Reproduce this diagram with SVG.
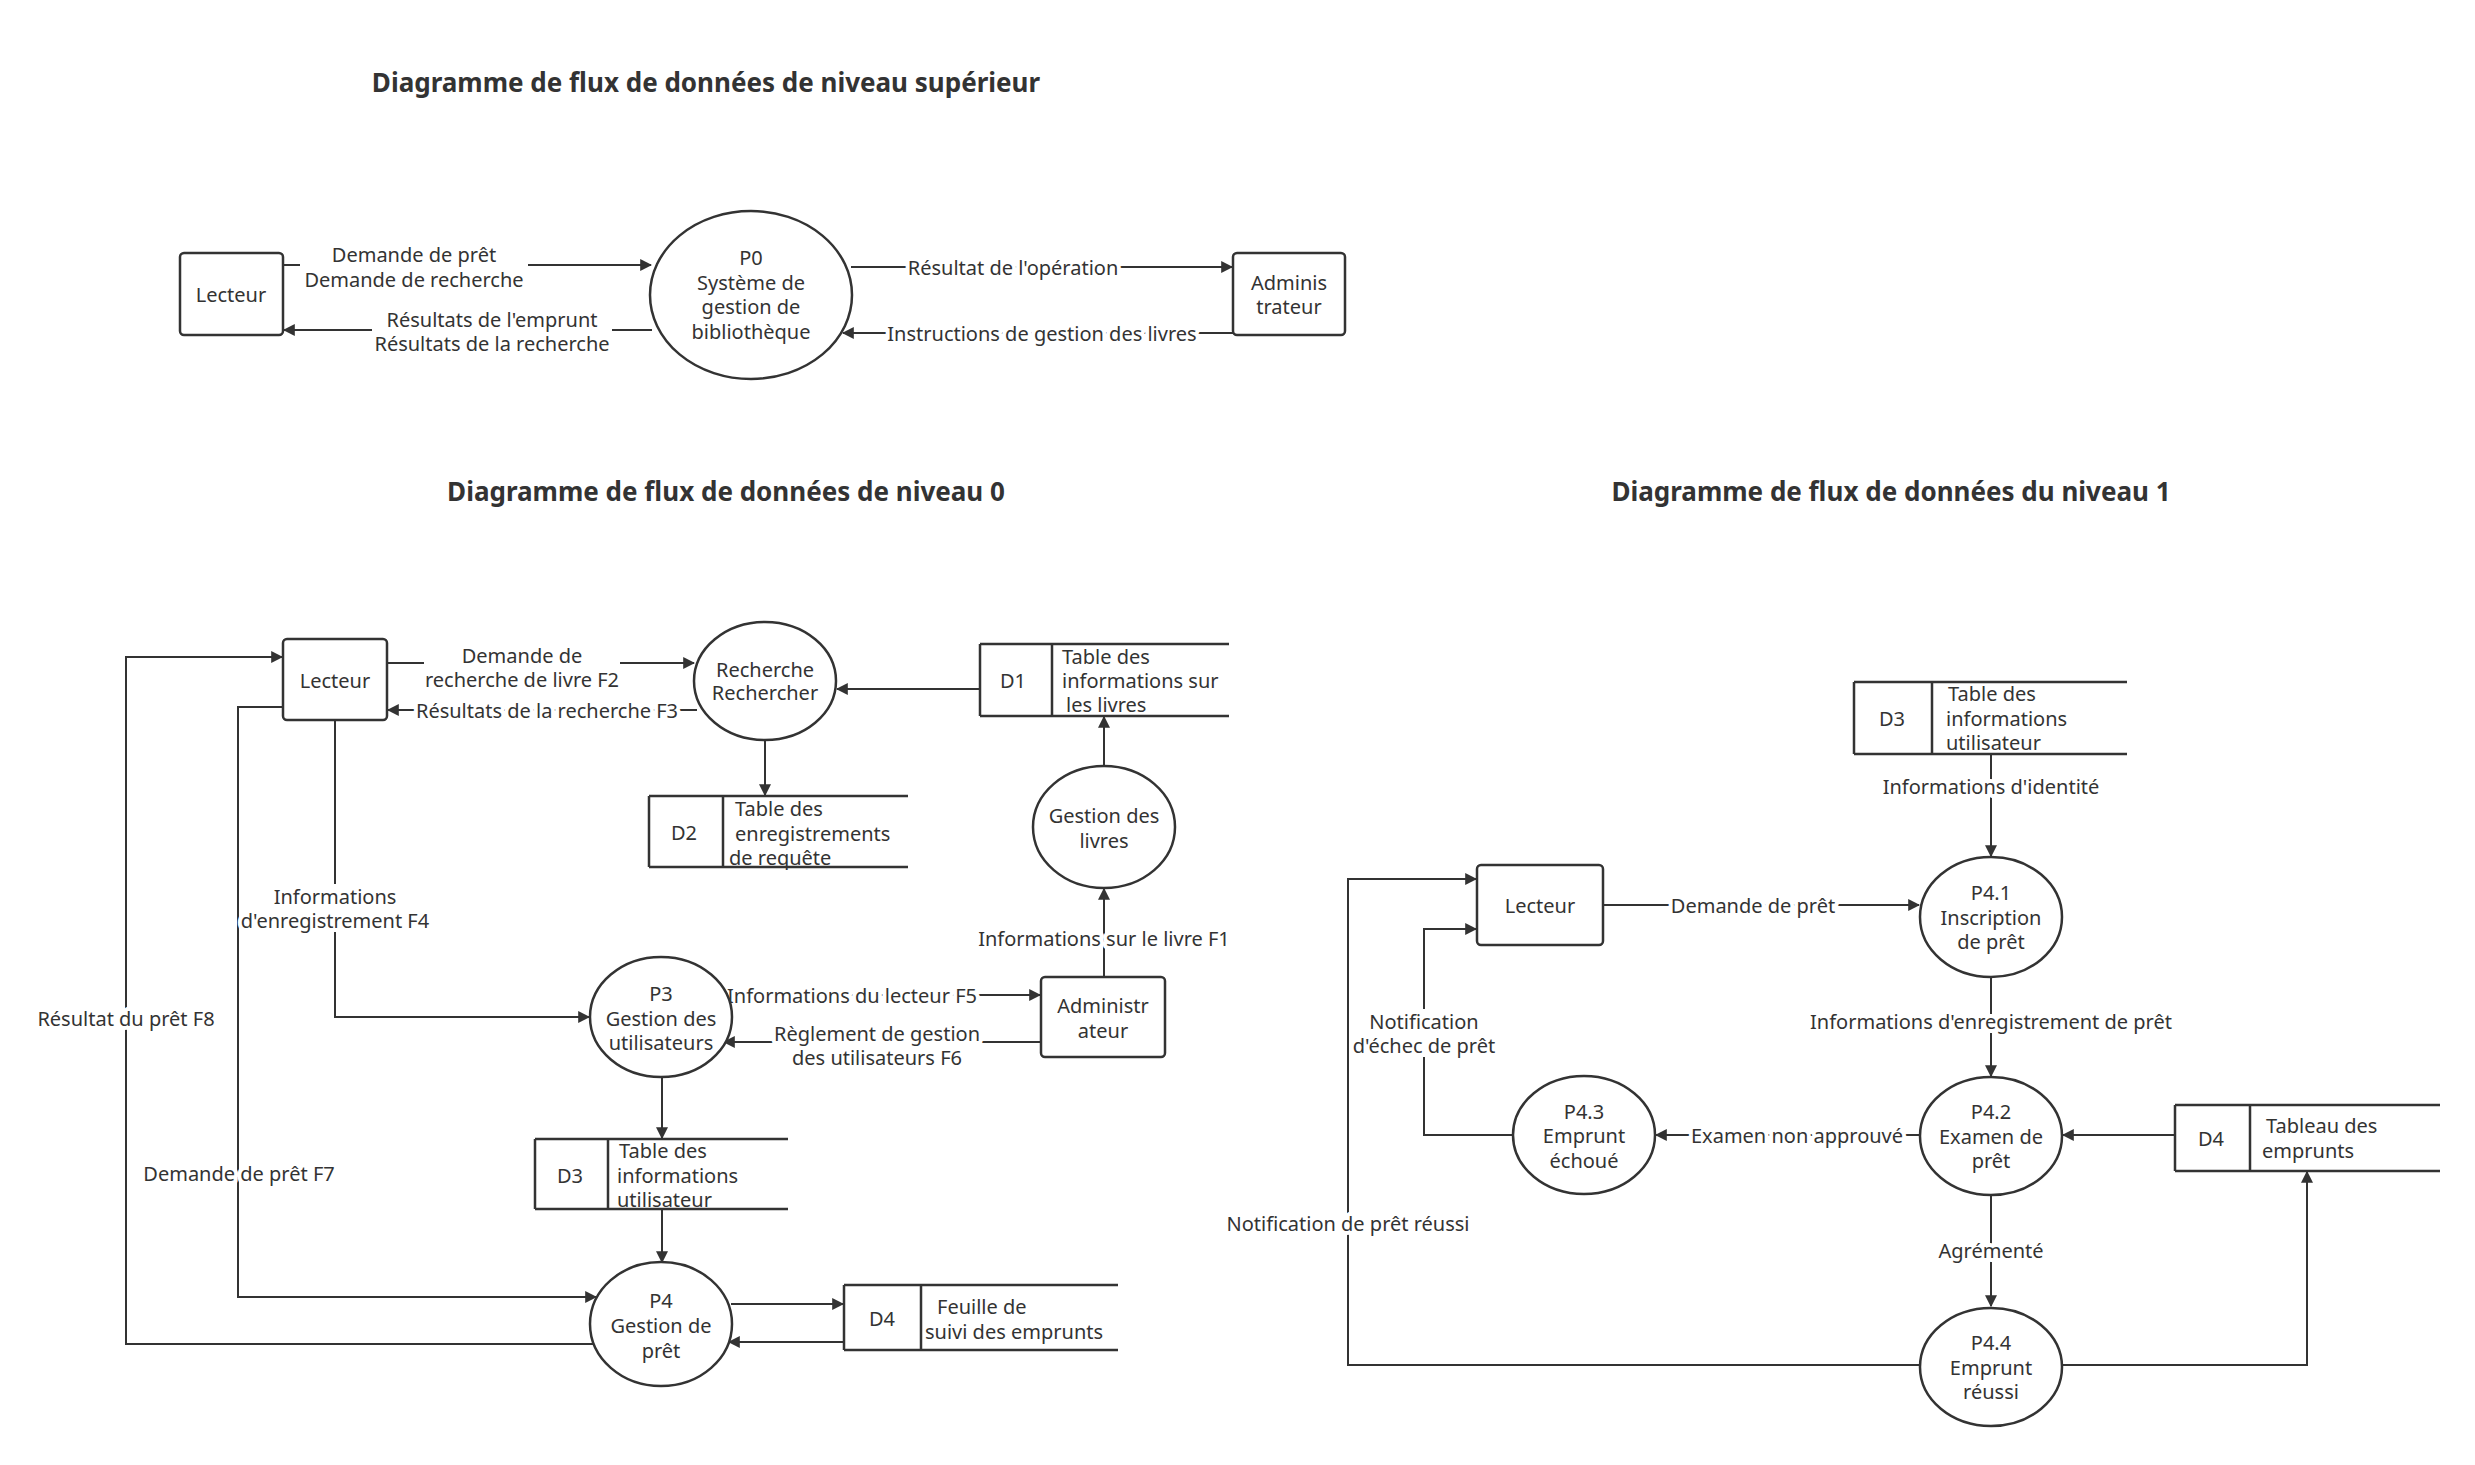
<svg xmlns="http://www.w3.org/2000/svg" width="2475" height="1465" viewBox="0 0 2475 1465">
<style>
text{font-family:"Noto Sans","Liberation Sans",sans-serif;font-size:20px;fill:#333;text-anchor:middle;dominant-baseline:central}
.t{font-size:26px;font-weight:bold}
.l{paint-order:stroke;stroke:#fff;stroke-width:8px;stroke-linejoin:round}
.s{text-anchor:start}
.n{fill:#fff;stroke:#333;stroke-width:2.5}
.st{stroke:#333;stroke-width:2.5;fill:none}
.c path{fill:none;stroke:#333;stroke-width:2}
.bg{fill:#fff}
</style>
<defs><marker id="a" viewBox="0 0 10 10" refX="9" refY="5" markerWidth="12" markerHeight="12" markerUnits="userSpaceOnUse" orient="auto"><path d="M0,0L10,5L0,10z" fill="#333"/></marker></defs>
<rect width="2475" height="1465" fill="#fff"/>
<text class="t" x="706" y="82">Diagramme de flux de données de niveau supérieur</text>
<text class="t" x="726" y="491">Diagramme de flux de données de niveau 0</text>
<text class="t" x="1891" y="491">Diagramme de flux de données du niveau 1</text>

<g class="c">
<path d="M283,265H651" marker-end="url(#a)"/>
<path d="M652,330H284" marker-end="url(#a)"/>
<path d="M851,267H1232" marker-end="url(#a)"/>
<path d="M1233,333H843" marker-end="url(#a)"/>
<path d="M387,663H694" marker-end="url(#a)"/>
<path d="M697,710H388" marker-end="url(#a)"/>
<path d="M980,689H837" marker-end="url(#a)"/>
<path d="M765,740V795" marker-end="url(#a)"/>
<path d="M1104,767V717" marker-end="url(#a)"/>
<path d="M1104,977V889" marker-end="url(#a)"/>
<path d="M731,995H1040" marker-end="url(#a)"/>
<path d="M1041,1042H724" marker-end="url(#a)"/>
<path d="M335,720V1017H589" marker-end="url(#a)"/>
<path d="M662,1077V1138" marker-end="url(#a)"/>
<path d="M662,1209V1262" marker-end="url(#a)"/>
<path d="M283,707H238V1297H596" marker-end="url(#a)"/>
<path d="M593,1344H126V657H282" marker-end="url(#a)"/>
<path d="M731,1304H843" marker-end="url(#a)"/>
<path d="M844,1342H729" marker-end="url(#a)"/>
<path d="M1991,754V856" marker-end="url(#a)"/>
<path d="M1603,905H1919" marker-end="url(#a)"/>
<path d="M1991,977V1076" marker-end="url(#a)"/>
<path d="M2175,1135H2063" marker-end="url(#a)"/>
<path d="M1920,1135H1656" marker-end="url(#a)"/>
<path d="M1513,1135H1424V929H1476" marker-end="url(#a)"/>
<path d="M1991,1195V1306" marker-end="url(#a)"/>
<path d="M1920,1365H1348V879H1476" marker-end="url(#a)"/>
<path d="M2062,1365H2307V1172" marker-end="url(#a)"/>
</g>

<g id="labels">
<rect class="bg" x="300" y="242" width="228" height="50"/>
<rect class="bg" x="372" y="307" width="240" height="48"/>
<rect class="bg" x="424" y="643" width="196" height="48"/>
<rect class="bg" x="779" y="1021" width="196" height="48"/>
<rect class="bg" x="240" y="884" width="190" height="48"/>
<rect class="bg" x="1352" y="1009" width="144" height="48"/>
<text class="l" x="414" y="254">Demande de prêt</text>
<text class="l" x="414" y="279">Demande de recherche</text>
<text class="l" x="492" y="319">Résultats de l'emprunt</text>
<text class="l" x="492" y="343">Résultats de la recherche</text>
<text class="l" x="1013" y="267">Résultat de l'opération</text>
<text class="l" x="1042" y="333">Instructions de gestion des livres</text>
<text class="l" x="522" y="655">Demande de</text>
<text class="l" x="522" y="679">recherche de livre F2</text>
<text class="l" x="547" y="710">Résultats de la recherche F3</text>
<text class="l" x="1104" y="938">Informations sur le livre F1</text>
<text class="l" x="852" y="995">Informations du lecteur F5</text>
<text class="l" x="877" y="1033">Règlement de gestion</text>
<text class="l" x="877" y="1057">des utilisateurs F6</text>
<text class="l" x="335" y="896">Informations</text>
<text class="l" x="335" y="920">d'enregistrement F4</text>
<text class="l" x="239" y="1173">Demande de prêt F7</text>
<text class="l" x="126" y="1018">Résultat du prêt F8</text>
<text class="l" x="1991" y="786">Informations d'identité</text>
<text class="l" x="1753" y="905">Demande de prêt</text>
<text class="l" x="1991" y="1021">Informations d'enregistrement de prêt</text>
<text class="l" x="1797" y="1135">Examen non approuvé</text>
<text class="l" x="1424" y="1021">Notification</text>
<text class="l" x="1424" y="1045">d'échec de prêt</text>
<text class="l" x="1991" y="1250">Agrémenté</text>
<text class="l" x="1348" y="1223">Notification de prêt réussi</text>
</g>

<g id="top-lecteur"><rect class="n" x="180" y="253" width="103" height="82" rx="4"/><text x="231" y="294">Lecteur</text></g>
<g id="top-p0"><ellipse class="n" cx="751" cy="295" rx="101" ry="84"/><text x="751" y="257">P0</text><text x="751" y="282">Système de</text><text x="751" y="306">gestion de</text><text x="751" y="331">bibliothèque</text></g>
<g id="top-admin"><rect class="n" x="1233" y="253" width="112" height="82" rx="4"/><text x="1289" y="282">Adminis</text><text x="1289" y="306">trateur</text></g>

<g id="l0-lecteur"><rect class="n" x="283" y="639" width="104" height="81" rx="4"/><text x="335" y="680">Lecteur</text></g>
<g id="l0-recherche"><ellipse class="n" cx="765" cy="681" rx="71" ry="59"/><text x="765" y="669">Recherche</text><text x="765" y="692">Rechercher</text></g>
<g id="l0-d1"><path class="st" d="M980,644H1229M980,716H1229M980,644V716M1052,644V716"/><text x="1013" y="680">D1</text><text class="s" x="1062" y="656">Table des</text><text class="s" x="1062" y="680">informations sur</text><text class="s" x="1066" y="704">les livres</text></g>
<g id="l0-d2"><path class="st" d="M649,796H908M649,867H908M649,796V867M723,796V867"/><text x="684" y="832">D2</text><text class="s" x="735" y="808">Table des</text><text class="s" x="735" y="833">enregistrements</text><text class="s" x="729" y="857">de requête</text></g>
<g id="l0-gestion"><ellipse class="n" cx="1104" cy="827" rx="71" ry="61"/><text x="1104" y="815">Gestion des</text><text x="1104" y="840">livres</text></g>
<g id="l0-admin"><rect class="n" x="1041" y="977" width="124" height="80" rx="4"/><text x="1103" y="1005">Administr</text><text x="1103" y="1030">ateur</text></g>
<g id="l0-p3"><ellipse class="n" cx="661" cy="1017" rx="71" ry="60"/><text x="661" y="993">P3</text><text x="661" y="1018">Gestion des</text><text x="661" y="1042">utilisateurs</text></g>
<g id="l0-d3"><path class="st" d="M535,1139H788M535,1209H788M535,1139V1209M608,1139V1209"/><text x="570" y="1175">D3</text><text class="s" x="619" y="1150">Table des</text><text class="s" x="617" y="1175">informations</text><text class="s" x="617" y="1199">utilisateur</text></g>
<g id="l0-p4"><ellipse class="n" cx="661" cy="1324" rx="71" ry="62"/><text x="661" y="1300">P4</text><text x="661" y="1325">Gestion de</text><text x="661" y="1350">prêt</text></g>
<g id="l0-d4"><path class="st" d="M844,1285H1118M844,1350H1118M844,1285V1350M921,1285V1350"/><text x="882" y="1318">D4</text><text class="s" x="937" y="1306">Feuille de</text><text class="s" x="925" y="1331">suivi des emprunts</text></g>

<g id="l1-d3"><path class="st" d="M1854,682H2127M1854,754H2127M1854,682V754M1932,682V754"/><text x="1892" y="718">D3</text><text class="s" x="1948" y="693">Table des</text><text class="s" x="1946" y="718">informations</text><text class="s" x="1946" y="742">utilisateur</text></g>
<g id="l1-p41"><ellipse class="n" cx="1991" cy="917" rx="71" ry="60"/><text x="1991" y="892">P4.1</text><text x="1991" y="917">Inscription</text><text x="1991" y="941">de prêt</text></g>
<g id="l1-lecteur"><rect class="n" x="1477" y="865" width="126" height="80" rx="4"/><text x="1540" y="905">Lecteur</text></g>
<g id="l1-p42"><ellipse class="n" cx="1991" cy="1136" rx="71" ry="59"/><text x="1991" y="1111">P4.2</text><text x="1991" y="1136">Examen de</text><text x="1991" y="1160">prêt</text></g>
<g id="l1-d4"><path class="st" d="M2175,1105H2440M2175,1171H2440M2175,1105V1171M2250,1105V1171"/><text x="2211" y="1138">D4</text><text class="s" x="2266" y="1125">Tableau des</text><text class="s" x="2262" y="1150">emprunts</text></g>
<g id="l1-p43"><ellipse class="n" cx="1584" cy="1135" rx="71" ry="59"/><text x="1584" y="1111">P4.3</text><text x="1584" y="1135">Emprunt</text><text x="1584" y="1160">échoué</text></g>
<g id="l1-p44"><ellipse class="n" cx="1991" cy="1367" rx="71" ry="59"/><text x="1991" y="1342">P4.4</text><text x="1991" y="1367">Emprunt</text><text x="1991" y="1391">réussi</text></g>
</svg>
